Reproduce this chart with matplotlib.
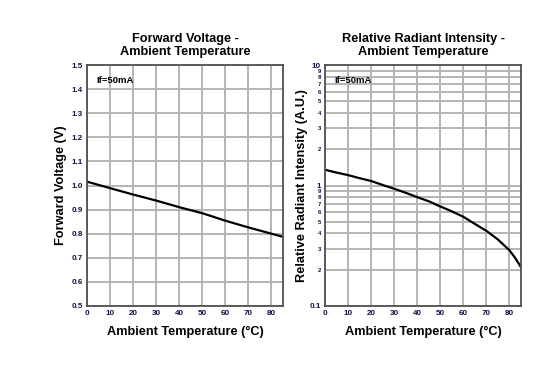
import matplotlib.pyplot as plt
import matplotlib.ticker as mticker

plt.rcParams['font.family'] = ['Liberation Sans', 'DejaVu Sans']

# forward voltage vs ambient temperature
temp_vf = [0, 10, 20, 30, 40, 50, 60, 70, 80, 85]
vf = [1.016, 0.989, 0.9625, 0.9375, 0.91, 0.885, 0.854, 0.826, 0.80, 0.787]

# relative radiant intensity vs ambient temperature
temp_ie = [0, 5, 10, 15, 20, 25, 30, 35, 40, 45, 50, 55, 60, 65, 70, 75, 80, 82.5, 85]
intensity = [1.35, 1.28, 1.22, 1.15, 1.09, 1.01, 0.94, 0.87, 0.80, 0.74, 0.67,
             0.61, 0.55, 0.48, 0.42, 0.356, 0.29, 0.25, 0.21]

x_ticks = [0, 10, 20, 30, 40, 50, 60, 70, 80]
vf_ticks = [0.5, 0.6, 0.7, 0.8, 0.9, 1.0, 1.1, 1.2, 1.3, 1.4, 1.5]

TICK_C = "#10104a"
GRID_C = "#b4b4b4"


def style_axes(ax):
    for s in ax.spines.values():
        s.set_color("#505050")
        s.set_linewidth(1.3)
    ax.set_xlim(0, 85)
    ax.set_xticks(x_ticks)
    ax.tick_params(axis="both", which="both", length=0, pad=3,
                   labelsize=5.8, labelcolor=TICK_C)
    for lab in ax.get_xticklabels() + ax.get_yticklabels():
        lab.set_fontweight("bold")
    ax.grid(True, which="major", color=GRID_C, linewidth=1.4)
    ax.set_axisbelow(True)
    ax.set_xlabel("Ambient Temperature (°C)", fontsize=9.2, fontweight="bold", labelpad=6.5)
    ax.text(0.05, 0.955, "If=50mA", transform=ax.transAxes, fontsize=6.8,
            fontweight="bold", va="top", ha="left")


fig = plt.figure(figsize=(5.49, 3.65), dpi=100)

# left: forward voltage
ax1 = fig.add_axes([87 / 549, 59 / 365, 196 / 549, 241 / 365])
ax1.plot(temp_vf, vf, color="black", linewidth=1.6)
ax1.set_ylim(0.5, 1.5)
ax1.set_yticks(vf_ticks)
ax1.yaxis.set_major_formatter(mticker.FormatStrFormatter("%.1f"))
style_axes(ax1)
ax1.set_ylabel("Forward Voltage (V)", fontsize=9.2, fontweight="bold", labelpad=3)
ax1.set_title("Forward Voltage -\nAmbient Temperature", fontsize=9.2,
              fontweight="bold", pad=7, linespacing=1.15)

# right: relative radiant intensity
ax2 = fig.add_axes([325 / 549, 59 / 365, 196 / 549, 241 / 365])
ax2.plot(temp_ie, intensity, color="black", linewidth=1.6)
ax2.set_yscale("log")
ax2.set_ylim(0.1, 10)
ax2.yaxis.set_major_locator(mticker.FixedLocator([0.1, 1, 10]))
ax2.yaxis.set_major_formatter(mticker.FixedFormatter(["0.1", "1", "10"]))
minor = [m * d for d in (0.1, 1) for m in range(2, 10)]
ax2.yaxis.set_minor_locator(mticker.FixedLocator(minor))
ax2.yaxis.set_minor_formatter(mticker.FixedFormatter([str(m) for _ in range(2) for m in range(2, 10)]))
style_axes(ax2)
ax2.tick_params(axis="y", which="minor", labelsize=4.3, labelcolor=TICK_C, pad=3)
for lab in ax2.get_yticklabels(minor=True):
    lab.set_fontweight("bold")
ax2.grid(True, which="minor", axis="y", color=GRID_C, linewidth=1.4)
ax2.set_ylabel("Relative Radiant Intensity (A.U.)", fontsize=9.2, fontweight="bold", labelpad=1)
ax2.set_title("Relative Radiant Intensity -\nAmbient Temperature", fontsize=9.2,
              fontweight="bold", pad=7, linespacing=1.15)

fig.savefig("out.png", dpi=100)
